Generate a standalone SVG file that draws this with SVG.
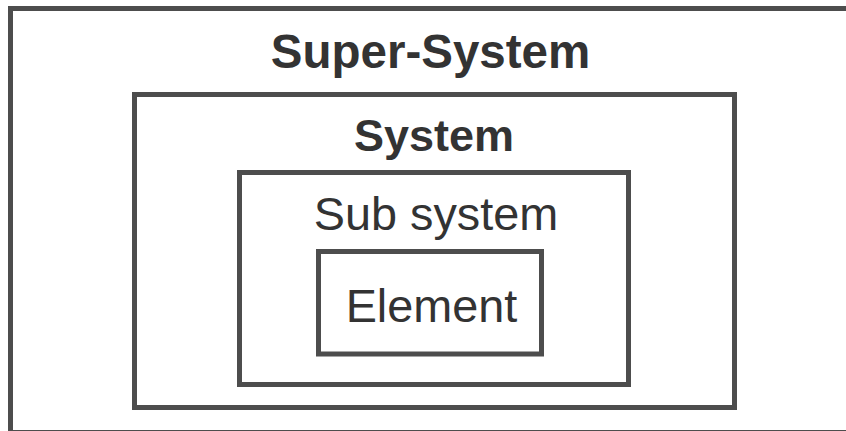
<svg xmlns="http://www.w3.org/2000/svg" width="846" height="431" viewBox="0 0 846 431">
<style>
.box{fill:none;stroke:#4d4d4d;stroke-width:5}
.t{font-family:"Liberation Sans",Arial,sans-serif;fill:#333333;text-anchor:middle}
.b{font-weight:bold}
</style>
<rect width="846" height="431" fill="#ffffff"/>
<g id="super-system">
<rect class="box" x="10.5" y="8.5" width="840" height="424"/>
<text class="t b" x="430.5" y="68" font-size="47.5">Super-System</text>
</g>
<g id="system">
<rect class="box" x="134.5" y="94.5" width="600" height="313"/>
<text class="t b" x="434" y="151" font-size="45">System</text>
</g>
<g id="sub-system">
<rect class="box" x="239.5" y="172.5" width="389" height="212"/>
<text class="t" x="436" y="230" font-size="46.8">Sub system</text>
</g>
<g id="element">
<rect class="box" x="318.5" y="251.5" width="223" height="102.5"/>
<text class="t" x="431.5" y="322" font-size="46.8">Element</text>
</g>
<g id="connectors"/>
</svg>
